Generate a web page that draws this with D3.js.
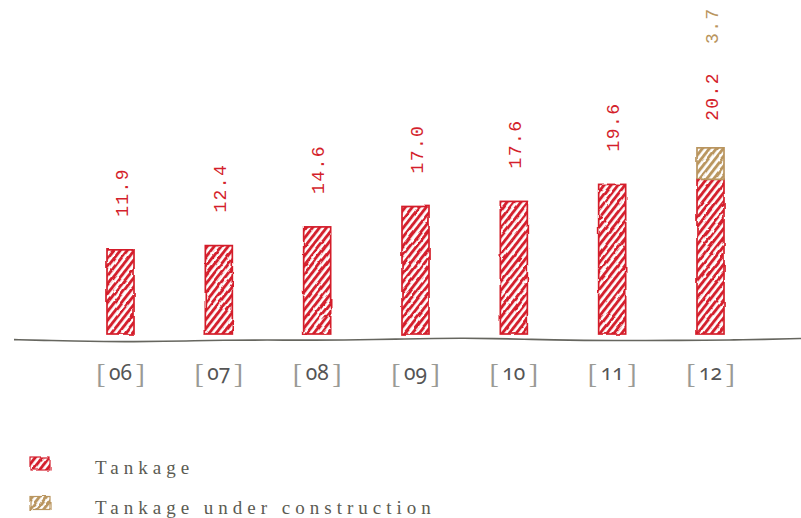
<!DOCTYPE html>
<html>
<head>
<meta charset="utf-8">
<script src="https://cdn.jsdelivr.net/npm/d3@7"></script>
<style>
  html, body { margin: 0; padding: 0; background: #fff; }
  svg { display: block; }
</style>
</head>
<body>
<svg id="chart" width="801" height="518"></svg>
<script>
// Storage capacity per year
const years = ["06", "07", "08", "09", "10", "11", "12"];
const tankage = [11.9, 12.4, 14.6, 17.0, 17.6, 19.6, 20.2];
const underConstruction = [0, 0, 0, 0, 0, 0, 3.7];
const seriesNames = ["Tankage", "Tankage under construction"];

const RED = "#d41f2c";
const TAN = "#b9955e";

const svg = d3.select("#chart");
const defs = svg.append("defs");

// Hand-drawn roughness
const rough = defs.append("filter").attr("id", "rough")
  .attr("x", "-10%").attr("y", "-10%").attr("width", "120%").attr("height", "120%");
rough.append("feTurbulence").attr("type", "fractalNoise")
  .attr("baseFrequency", 0.08).attr("numOctaves", 2).attr("seed", 3).attr("result", "noise");
rough.append("feDisplacementMap").attr("in", "SourceGraphic").attr("in2", "noise")
  .attr("scale", 2.8).attr("xChannelSelector", "R").attr("yChannelSelector", "G");

// Diagonal hatch fills
function hatch(id, color) {
  const p = defs.append("pattern").attr("id", id)
    .attr("patternUnits", "userSpaceOnUse").attr("width", 5.5).attr("height", 5.5)
    .attr("patternTransform", "rotate(38)");
  p.append("rect").attr("width", 5.5).attr("height", 5.5).attr("fill", "#fff");
  p.append("line").attr("x1", 1.5).attr("y1", 0).attr("x2", 1.5).attr("y2", 5.5)
    .attr("stroke", color).attr("stroke-width", 2.9);
}
hatch("hatch-red", RED);
hatch("hatch-tan", TAN);

const x = d3.scalePoint().domain(years).range([120.5, 710.5]);
const y = d3.scaleLinear().domain([2, 26]).range([334, 130]);
const barW = 27;

const data = years.map((yr, i) => ({
  year: yr,
  segs: [
    { key: 0, v0: 0, v1: tankage[i], val: tankage[i], color: RED, fill: "url(#hatch-red)" },
    { key: 1, v0: tankage[i], v1: tankage[i] + underConstruction[i], val: underConstruction[i], color: TAN, fill: "url(#hatch-tan)" }
  ].filter(s => s.val > 0)
}));

// Baseline, slightly wavy like a pen stroke
const lineGen = d3.line().curve(d3.curveBasis);
const basePts = d3.range(14, 801, 30).concat([801]).map(px =>
  [px, 340 + 1.2 * Math.sin(px / 95) - 0.6 * Math.cos(px / 37) - (px > 700 ? (px - 700) * 0.03 : 0)]);
svg.append("path").attr("d", lineGen(basePts))
  .attr("fill", "none").attr("stroke", "#66665f").attr("stroke-width", 1.6);

// Bars
const bars = svg.append("g").attr("filter", "url(#rough)");
data.forEach(d => {
  d.segs.forEach(s => {
    const top = y(s.v1);
    const bottom = s.key === 0 ? 334 : y(s.v0);
    bars.append("rect")
      .attr("x", x(d.year) - barW / 2).attr("y", top)
      .attr("width", barW).attr("height", bottom - top)
      .attr("fill", s.fill).attr("stroke", s.color).attr("stroke-width", 1.7);
  });
});

// Value labels, stacked upward above each column
const labels = svg.append("g")
  .attr("font-family", "'Liberation Mono', 'DejaVu Sans Mono', monospace")
  .attr("font-size", 18).attr("letter-spacing", 1.4);
data.forEach(d => {
  let cursor = y(d.segs[d.segs.length - 1].v1) - (d.segs.length > 1 ? 27 : 33);
  d.segs.forEach(s => {
    const t = labels.append("text")
      .attr("transform", `translate(${x(d.year) + 7},${cursor}) rotate(-90)`)
      .attr("fill", s.color).text(s.val.toFixed(1));
    cursor -= t.node().getComputedTextLength() + 28;
  });
});

// Year ticks in brackets
const ticks = svg.append("g");
years.forEach(yr => {
  const t = ticks.append("text").attr("x", x(yr)).attr("y", 380)
    .attr("text-anchor", "middle");
  t.append("tspan").attr("font-family", "Liberation Serif").attr("font-size", 28)
    .attr("fill", "#9a9a95").attr("dy", 3).text("[");
  t.append("tspan").attr("font-family", "'Noto Sans', sans-serif").attr("font-size", 21)
    .style("font-variant-numeric", "oldstyle-nums")
    .style("font-feature-settings", "'onum' 1")
    .attr("fill", "#555").attr("dy", -3).text("\u2009" + yr + "\u2009");
  t.append("tspan").attr("font-family", "Liberation Serif").attr("font-size", 28)
    .attr("fill", "#9a9a95").attr("dy", 3).text("]");
});

// Legend
const legend = svg.append("g");
seriesNames.forEach((name, i) => {
  const gy = 457 + i * 39.5;
  legend.append("rect").attr("x", 30).attr("y", gy).attr("width", 20).attr("height", 13)
    .attr("fill", i === 0 ? "url(#hatch-red)" : "url(#hatch-tan)")
    .attr("stroke", i === 0 ? RED : TAN).attr("stroke-width", 1.2)
    .attr("filter", "url(#rough)");
  legend.append("text").attr("x", 95).attr("y", gy + 17)
    .attr("font-family", "'Liberation Serif', serif").attr("font-size", 19)
    .attr("letter-spacing", 5).attr("fill", "#5b5b52").text(name);
});
</script>
</body>
</html>
